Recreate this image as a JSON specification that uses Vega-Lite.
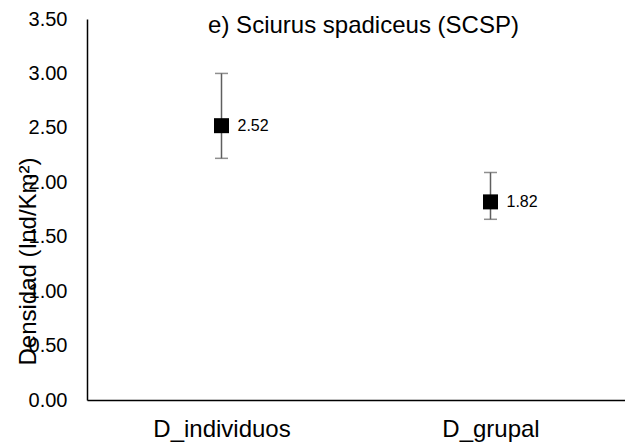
{
  "$schema": "https://vega.github.io/schema/vega-lite/v6.json",
  "width": 538,
  "height": 381,
  "autosize": {"type": "none"},
  "padding": {"left": 87, "top": 19, "right": 0, "bottom": 46},
  "background": "white",
  "data": {
    "values": [
      {"grupo": "D_individuos", "densidad": 2.52, "inferior": 2.22, "superior": 3.0},
      {"grupo": "D_grupal", "densidad": 1.82, "inferior": 1.66, "superior": 2.09}
    ]
  },
  "encoding": {
    "x": {
      "field": "grupo",
      "type": "nominal",
      "sort": null,
      "scale": {"type": "point", "padding": 0.5},
      "axis": {
        "title": "e) Sciurus spadiceus (SCSP)",
        "titleFont": "Liberation Sans",
        "titleFontSize": 24,
        "titleFontWeight": "normal",
        "titleColor": "#000000",
        "titleAlign": "center",
        "titleBaseline": "alphabetic",
        "titleX": 276,
        "titleY": -368,
        "labelAngle": 0,
        "labelFont": "Liberation Sans",
        "labelFontSize": 24,
        "labelColor": "#000000",
        "labelPadding": 17,
        "ticks": false,
        "domainColor": "#000000",
        "domainWidth": 1.5,
        "grid": false
      }
    }
  },
  "layer": [
    {
      "mark": {"type": "rule", "color": "#5f5f5f", "strokeWidth": 1.5},
      "encoding": {
        "y": {
          "field": "inferior",
          "type": "quantitative",
          "scale": {"domain": [0, 3.5], "nice": false, "zero": true},
          "axis": {
            "title": "Densidad (Ind/Km²)",
            "values": [0, 0.5, 1, 1.5, 2, 2.5, 3, 3.5],
            "format": ".2f",
            "labelFont": "Liberation Sans",
            "labelFontSize": 20,
            "labelColor": "#000000",
            "labelPadding": 20,
            "ticks": false,
            "grid": false,
            "domainColor": "#000000",
            "domainWidth": 1.5,
            "titleFont": "Liberation Sans",
            "titleFontSize": 24,
            "titleFontWeight": "normal",
            "titleColor": "#000000",
            "titleAngle": -90,
            "titleAlign": "center",
            "titleBaseline": "alphabetic",
            "titleX": -52,
            "titleY": 242
          }
        },
        "y2": {"field": "superior"}
      }
    },
    {
      "mark": {"type": "tick", "color": "#5f5f5f", "size": 13, "thickness": 1.5},
      "encoding": {"y": {"field": "inferior", "type": "quantitative"}}
    },
    {
      "mark": {"type": "tick", "color": "#5f5f5f", "size": 13, "thickness": 1.5},
      "encoding": {"y": {"field": "superior", "type": "quantitative"}}
    },
    {
      "mark": {"type": "point", "shape": "square", "filled": true, "size": 225, "color": "#000000", "opacity": 1},
      "encoding": {"y": {"field": "densidad", "type": "quantitative"}}
    },
    {
      "mark": {"type": "text", "align": "left", "baseline": "middle", "dx": 16, "font": "Liberation Sans", "fontSize": 16, "color": "#000000"},
      "encoding": {
        "y": {"field": "densidad", "type": "quantitative"},
        "text": {"field": "densidad", "type": "quantitative", "format": ".2f"}
      }
    }
  ],
  "config": {"view": {"stroke": null}}
}
